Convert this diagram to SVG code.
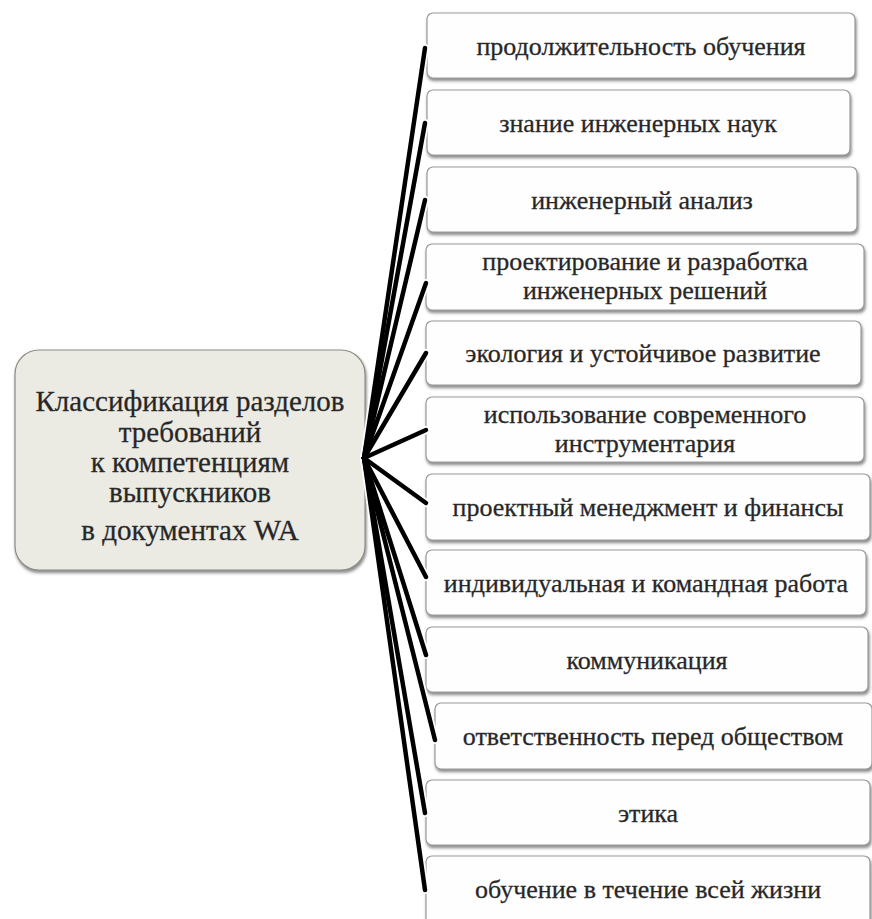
<svg xmlns="http://www.w3.org/2000/svg" width="872" height="919" viewBox="0 0 872 919">
  <defs>
    <filter id="sh" x="-5%" y="-10%" width="115%" height="130%">
      <feDropShadow dx="1" dy="2.5" stdDeviation="1.5" flood-color="#555" flood-opacity="0.7"/>
    </filter>
  </defs>
  <style>
    .box { fill: #fefefe; stroke: #9a9a9a; stroke-width: 1.2; filter: url(#sh); }
    .main { fill: #ecebe3; stroke: #8e8d86; stroke-width: 1.2; filter: url(#sh); }
    .t { font-family: "Liberation Serif", "Times New Roman", serif; font-size: 26px; fill: #262626; stroke: #333; stroke-width: 0.3; text-anchor: middle; }
    .tm { font-family: "Liberation Serif", "Times New Roman", serif; font-size: 29px; fill: #262626; stroke: #333; stroke-width: 0.3; text-anchor: middle; }
    .cw { stroke: #fff; stroke-width: 8; fill: none; stroke-linecap: round; }
    .cb { stroke: #000; stroke-width: 4.5; fill: none; stroke-linecap: round; }
  </style>
  <rect width="872" height="919" fill="#fff"/>

  <g id="n1"><rect class="box" x="427" y="13" width="428" height="65" rx="6"/><text class="t" x="641" y="55">продолжительность обучения</text></g>
  <g id="n2"><rect class="box" x="427" y="90" width="423" height="65" rx="6"/><text class="t" x="638" y="132">знание инженерных наук</text></g>
  <g id="n3"><rect class="box" x="427" y="167" width="430" height="65" rx="6"/><text class="t" x="642" y="209">инженерный анализ</text></g>
  <g id="n4"><rect class="box" x="426" y="244" width="438" height="66" rx="6"/><text class="t" x="645" y="270">проектирование и разработка</text><text class="t" x="645" y="299">инженерных решений</text></g>
  <g id="n5"><rect class="box" x="426" y="321" width="435" height="64" rx="6"/><text class="t" x="643" y="362">экология и устойчивое развитие</text></g>
  <g id="n6"><rect class="box" x="426" y="397" width="438" height="65" rx="6"/><text class="t" x="645" y="423">использование современного</text><text class="t" x="645" y="452">инструментария</text></g>
  <g id="n7"><rect class="box" x="426" y="474" width="444" height="66" rx="6"/><text class="t" x="648" y="516">проектный менеджмент и финансы</text></g>
  <g id="n8"><rect class="box" x="426" y="550" width="440" height="65" rx="6"/><text class="t" x="646" y="592">индивидуальная и командная работа</text></g>
  <g id="n9"><rect class="box" x="426" y="627" width="442" height="65" rx="6"/><text class="t" x="647" y="669">коммуникация</text></g>
  <g id="n10"><rect class="box" x="435" y="703" width="437" height="66" rx="6"/><text class="t" x="653" y="745">ответственность перед обществом</text></g>
  <g id="n11"><rect class="box" x="426" y="780" width="444" height="65" rx="6"/><text class="t" x="648" y="822">этика</text></g>
  <g id="n12"><rect class="box" x="426" y="856" width="444" height="75" rx="6"/><text class="t" x="648" y="898">обучение в течение всей жизни</text></g>

  <g id="n0"><rect class="main" x="15" y="350" width="350" height="220" rx="24"/>
    <text class="tm" x="190" y="411">Классификация разделов</text>
    <text class="tm" x="190" y="442">требований</text>
    <text class="tm" x="190" y="472">к компетенциям</text>
    <text class="tm" x="190" y="502">выпускников</text>
    <text class="tm" x="190" y="540">в документах WA</text>
  </g>

  <g id="connectors">
    <g class="cw">
      <path d="M364 458 L425 48"/><path d="M364 458 L425 123"/><path d="M364 458 L425 200"/>
      <path d="M364 458 L426 283"/><path d="M364 458 L426 353"/><path d="M364 458 L426 430"/>
      <path d="M364 458 L426 503"/><path d="M364 458 L426 577"/><path d="M364 458 L426 655"/>
      <path d="M364 458 L435 740"/><path d="M364 458 L425 813"/><path d="M364 458 L425 890"/>
    </g>
    <g class="cb">
      <path d="M364 458 L425 48"/><path d="M364 458 L425 123"/><path d="M364 458 L425 200"/>
      <path d="M364 458 L426 283"/><path d="M364 458 L426 353"/><path d="M364 458 L426 430"/>
      <path d="M364 458 L426 503"/><path d="M364 458 L426 577"/><path d="M364 458 L426 655"/>
      <path d="M364 458 L435 740"/><path d="M364 458 L425 813"/><path d="M364 458 L425 890"/>
    </g>
  </g>
</svg>
